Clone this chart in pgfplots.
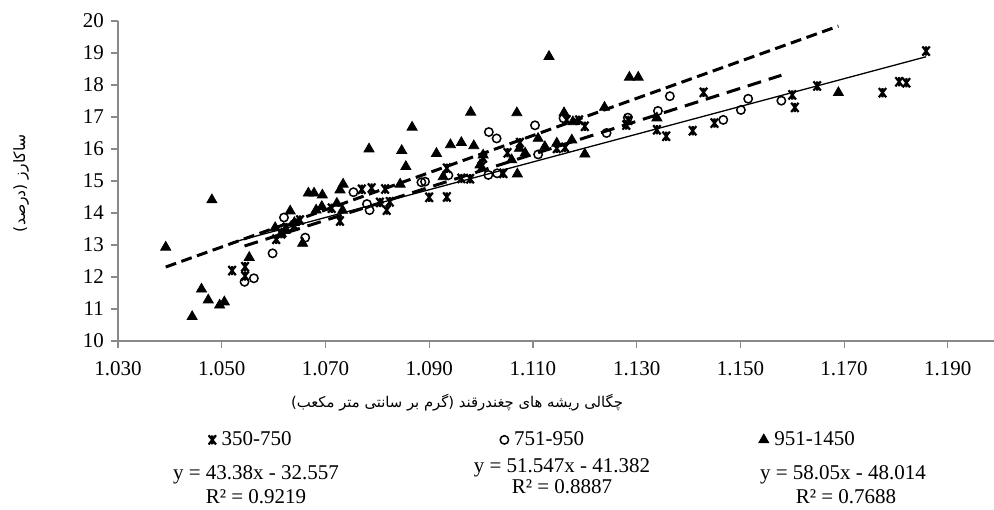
\documentclass[border=0pt]{standalone}
\usepackage{pgfplots}
\pgfplotsset{compat=1.18}
\usepackage{fontspec}
\setmainfont{Liberation Serif}
\newfontfamily\arabicfont[Script=Arabic]{DejaVu Sans}
\TeXXeTstate=1
\definecolor{axisgray}{HTML}{898989}
\pgfdeclareplotmark{xstar}{%
  \pgfpathmoveto{\pgfqpoint{-0.8\pgfplotmarksize}{-\pgfplotmarksize}}%
  \pgfpathlineto{\pgfqpoint{0.8\pgfplotmarksize}{\pgfplotmarksize}}%
  \pgfpathmoveto{\pgfqpoint{-0.8\pgfplotmarksize}{\pgfplotmarksize}}%
  \pgfpathlineto{\pgfqpoint{0.8\pgfplotmarksize}{-\pgfplotmarksize}}%
  \pgfpathmoveto{\pgfqpoint{0pt}{-\pgfplotmarksize}}%
  \pgfpathlineto{\pgfqpoint{0pt}{\pgfplotmarksize}}%
  \pgfusepathqstroke}

\pgfplotstableread{
x y
1.0520 12.20
1.0545 12.32
1.0545 12.03
1.0605 13.18
1.0615 13.35
1.0625 13.55
1.0640 13.60
1.0651 13.78
1.0712 14.15
1.0728 13.75
1.0770 14.74
1.0789 14.78
1.0805 14.33
1.0815 14.75
1.0818 14.09
1.0824 14.35
1.0900 14.49
1.0934 14.50
1.0934 15.40
1.0962 15.08
1.0979 15.07
1.1001 15.45
1.1004 15.72
1.1043 15.24
1.1051 15.88
1.1075 16.20
1.1146 16.02
1.1162 16.05
1.1165 16.91
1.1189 16.90
1.1200 16.71
1.1280 16.75
1.1284 16.90
1.1339 16.60
1.1357 16.40
1.1408 16.57
1.1429 17.77
1.1450 16.81
1.1600 17.69
1.1605 17.30
1.1648 17.97
1.1774 17.76
1.1806 18.10
1.1820 18.07
1.1858 19.06
}\dataA

\pgfplotstableread{
x y
1.0544 11.85
1.0562 11.96
1.0598 12.74
1.0620 13.86
1.0661 13.23
1.0754 14.65
1.0780 14.28
1.0785 14.09
1.0885 14.96
1.0892 14.98
1.0937 15.18
1.1015 16.53
1.1014 15.19
1.1030 16.33
1.1031 15.24
1.1104 16.74
1.1110 15.83
1.1159 16.96
1.1242 16.50
1.1283 16.98
1.1341 17.19
1.1364 17.65
1.1467 16.91
1.1501 17.22
1.1515 17.57
1.1579 17.51
}\dataB

\pgfplotstableread{
x y
1.0392 12.93
1.0443 10.76
1.0461 11.62
1.0474 11.28
1.0481 14.41
1.0496 11.12
1.0505 11.22
1.0553 12.61
1.0603 13.54
1.0615 13.35
1.0622 13.45
1.0632 14.06
1.0640 13.70
1.0656 13.05
1.0667 14.62
1.0678 14.62
1.0694 14.56
1.0682 14.09
1.0693 14.20
1.0722 14.30
1.0728 14.72
1.0734 14.90
1.0733 14.08
1.0784 16.00
1.0844 14.90
1.0847 15.95
1.0855 15.45
1.0867 16.68
1.0914 15.86
1.0927 15.13
1.0941 16.13
1.0962 16.20
1.0980 17.15
1.0986 16.10
1.0998 15.50
1.1004 15.81
1.1059 15.66
1.1069 17.13
1.1070 15.22
1.1074 16.02
1.1085 15.87
1.1110 16.33
1.1123 16.07
1.1131 18.89
1.1146 16.18
1.1160 17.13
1.1175 16.28
1.1177 16.85
1.1200 15.84
1.1238 17.30
1.1286 18.24
1.1303 18.24
1.1339 16.97
1.1689 17.76
}\dataC

\begin{document}
\begin{tikzpicture}
\begin{axis}[
  scale only axis, width=438pt, height=160pt,
  xmin=1.03, xmax=1.1989, ymin=10, ymax=20,
  axis x line*=bottom, axis y line*=left,
  axis line style={draw=axisgray, line width=0.6pt},
  xtick={1.03,1.05,1.07,1.09,1.11,1.13,1.15,1.17,1.19},
  xticklabels={1.030,1.050,1.070,1.090,1.110,1.130,1.150,1.170,1.190},
  ytick={10,11,...,20},
  minor tick num=0,
  tick align=outside, major tick length=3.5pt,
  tick style={draw=axisgray, line width=0.6pt},
  ticklabel style={font=\fontsize{10.5}{12}\selectfont},
  xticklabel style={yshift=-3pt},
  /pgf/number format/assume math mode=true,
  clip=false,
  legend columns=3,
  legend style={draw=none, fill=none, at={(0.103,-0.309)}, anchor=west,
    font=\fontsize{10.5}{12}\selectfont, inner sep=0pt,
    nodes={inner sep=1pt},
    /tikz/every even column/.append style={column sep=86.3pt}},
  legend image code/.code={\draw[#1] plot coordinates {(0pt,0pt)};},
]
\addplot[only marks, mark=xstar, mark size=2.3pt, mark options={black, line width=1.1pt}] table[x=x,y=y] {\dataA};
\addlegendentry{\kern1.8pt 350-750\rule{17pt}{0pt}}
\addplot[only marks, mark=o, mark size=2.1pt, mark options={black, line width=0.75pt}] table[x=x,y=y] {\dataB};
\addlegendentry{\kern1.8pt 751-950}
\addplot[only marks, mark=triangle*, mark size=2.9pt, mark options={black, fill=black}] table[x=x,y=y] {\dataC};
\addlegendentry{\kern1.8pt 951-1450}
% trend lines (endpoints from the fitted equations)
\addplot[forget plot, black, line width=0.65pt] coordinates {(1.0520,13.079) (1.1858,18.883)};
\addplot[forget plot, black, line width=1.5pt, dash pattern=on 7pt off 4pt] coordinates {(1.0544,12.969) (1.1579,18.304)};
\addplot[forget plot, black, line width=1.5pt, dash pattern=on 5.5pt off 2.8pt] coordinates {(1.0392,12.312) (1.1689,19.841)};
\end{axis}
\node[font=\fontsize{10.5}{12}\selectfont] at (69pt,-67pt) {y = 43.38x - 32.557};
\node[font=\fontsize{10.5}{12}\selectfont] at (69pt,-78pt) {R² = 0.9219};
\node[font=\fontsize{10.5}{12}\selectfont] at (222pt,-63.5pt) {y = 51.547x - 41.382};
\node[font=\fontsize{10.5}{12}\selectfont] at (222pt,-73pt) {R² = 0.8887};
\node[font=\fontsize{10.5}{12}\selectfont] at (362.5pt,-67pt) {y = 58.05x - 48.014};
\node[font=\fontsize{10.5}{12}\selectfont] at (364pt,-78pt) {R² = 0.7688};
\node[font={\fontsize{7.4}{9}\arabicfont}] at (169.5pt,-31pt) {\beginR چگالی ریشه های چغندرقند (گرم بر سانتی متر مکعب)\endR};
\node[font={\fontsize{7.8}{9}\arabicfont}, rotate=90] at (-48.5pt,79pt) {\beginR ساکارز (درصد)\endR};
\pgfresetboundingbox
\path[use as bounding box] (-59pt,-84pt) rectangle (438pt,170.5pt);
\end{tikzpicture}
\end{document}
